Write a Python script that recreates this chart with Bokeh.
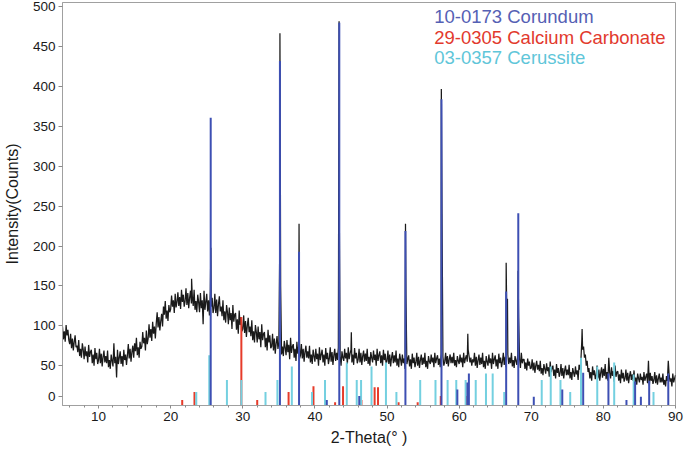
import numpy as np
from bokeh.plotting import figure
from bokeh.models import FixedTicker, Range1d
from bokeh.core.properties import value
from bokeh.embed import file_html
from bokeh.resources import INLINE

# ---------------- data ----------------
# measured pattern: one value every 0.125 deg from 5 to 90 (noisy trace as read off the picture)
theta_start, theta_stop, theta_step = 5.0, 90.0, 0.125
base_counts = [
    # 5 - 9.875
    99, 83, 93, 80, 101, 88, 95, 82,   77, 90, 72, 84, 69, 80, 88, 73,
    75, 67, 82, 62, 71, 60, 78, 70,    58, 74, 62, 68, 54, 76, 61, 67,
    70, 53, 64, 50, 72, 58, 66, 52,
    # 10 - 14.875
    57, 71, 53, 65, 49, 61, 69, 54,    62, 53, 69, 48, 57, 46, 64, 56,
    49, 78, 53, 61, 35, 70, 52, 60,    68, 52, 62, 49, 70, 57, 64, 51,
    63, 77, 59, 71, 55, 67, 75, 60,
    # 15 - 19.875
    78, 68, 85, 63, 73, 60, 80, 71,    74, 92, 78, 85, 69, 94, 77, 84,
    102, 85, 96, 81, 105, 90, 99, 84,  103, 117, 98, 111, 94, 106, 115, 99,
    124, 114, 131, 109, 119, 106, 126, 117,
    # 20 - 24.875
    121, 138, 124, 132, 116, 140, 123, 130,  142, 125, 136, 121, 145, 130, 139, 124,
    131, 147, 126, 141, 122, 135, 144, 128,  137, 125, 145, 120, 131, 117, 139, 130,
    117, 141, 122, 132, 102, 144, 120, 130,
    # 25 - 29.875
    140, 118, 132, 113, 143, 124, 135, 116,  122, 140, 116, 133, 112, 127, 137, 118,
    124, 112, 132, 107, 118, 104, 126, 117,  102, 123, 107, 116, 96, 126, 105, 114,
    116, 95, 108, 90, 119, 101, 111, 93,
    # 30 - 34.875
    96, 113, 91, 106, 86, 100, 110, 92,   99, 87, 107, 82, 93, 79, 101, 92,
    79, 99, 83, 92, 73, 102, 82, 90,      92, 73, 85, 69, 95, 79, 88, 72,
    74, 90, 69, 84, 65, 78, 87, 71,
    # 35 - 39.875
    79, 200, 150, 64, 74, 62, 81, 73,     63, 82, 67, 76, 58, 85, 66, 74,
    77, 60, 71, 56, 80, 65, 74, 59,       63, 77, 59, 71, 55, 67, 75, 60,
    68, 59, 75, 54, 64, 52, 70, 62,
    # 40 - 44.875
    55, 71, 58, 65, 50, 73, 57, 64,       70, 54, 64, 50, 72, 58, 66, 52,
    59, 73, 55, 67, 51, 63, 71, 56,       66, 57, 73, 250, 62, 50, 68, 60,
    56, 71, 59, 66, 52, 73, 58, 65,
    # 45 - 49.875
    70, 54, 64, 51, 72, 59, 66, 53,       58, 71, 54, 66, 51, 62, 69, 55,
    65, 56, 71, 52, 61, 50, 67, 60,       54, 69, 57, 64, 50, 71, 56, 63,
    68, 53, 63, 50, 70, 57, 65, 52,
    # 50 - 54.875
    56, 69, 52, 64, 49, 60, 67, 53,       63, 54, 69, 50, 59, 48, 65, 58,
    50, 64, 53, 59, 46, 140, 52, 58,      63, 49, 58, 46, 65, 53, 60, 48,
    54, 66, 50, 61, 47, 57, 64, 51,
    # 55 - 59.875
    60, 52, 66, 48, 56, 46, 62, 55,       52, 64, 54, 60, 48, 66, 53, 59,
    63, 51, 59, 48, 65, 240, 61, 50,      55, 66, 52, 62, 49, 58, 64, 53,
    61, 53, 66, 50, 57, 48, 62, 56,
    # 60 - 64.875
    52, 64, 54, 60, 48, 66, 53, 59,       63, 55, 70, 62, 54, 60, 50, 58,
    54, 66, 50, 61, 47, 57, 64, 51,       60, 52, 66, 48, 56, 46, 62, 55,
    50, 64, 53, 59, 46, 66, 52, 58,
    # 65 - 69.875
    63, 49, 58, 46, 65, 53, 60, 48,       55, 66, 51, 61, 48, 95, 64, 52,
    60, 53, 66, 49, 57, 47, 62, 56,       51, 64, 110, 59, 47, 66, 53, 58,
    58, 46, 54, 44, 59, 50, 55, 46,
    # 70 - 74.875
    47, 58, 44, 54, 41, 50, 56, 45,       51, 43, 56, 40, 47, 38, 52, 46,
    40, 53, 43, 48, 36, 55, 42, 47,       50, 37, 45, 34, 52, 41, 47, 36,
    41, 52, 37, 47, 34, 44, 50, 38,
    # 75 - 79.875
    45, 38, 51, 34, 42, 32, 47, 41,       36, 49, 39, 44, 32, 51, 45, 55,
    80, 70, 74, 60, 64, 50, 56, 42,       47, 34, 42, 31, 49, 38, 44, 33,
    38, 50, 34, 45, 31, 41, 48, 35,
    # 80 - 84.875
    46, 37, 52, 33, 42, 31, 60, 41,       34, 48, 37, 43, 30, 50, 36, 42,
    43, 31, 39, 28, 45, 34, 41, 30,       34, 45, 31, 41, 28, 37, 43, 32,
    39, 31, 44, 28, 35, 26, 40, 34,
    # 85 - 90
    29, 40, 32, 36, 26, 42, 31, 36,       40, 28, 56, 25, 41, 31, 37, 27,
    32, 42, 28, 38, 26, 34, 40, 29,       35, 29, 40, 26, 32, 24, 37, 31,
    56, 38, 30, 34, 24, 40, 29, 34,
    38,
]
# sharp reflections of the measured pattern (apex points)
peak_theta = [22.9, 25.57, 35.15, 35.2, 37.8, 37.84, 43.35, 45.05, 52.56, 57.53,
              61.2, 66.52, 66.7, 68.17, 77.05]
peak_counts = [159, 198, 467, 320, 228, 150, 482, 92, 228, 397,
               90, 179, 134, 169, 96]

# reference patterns (stick positions, stick heights)
corundum_label = "10-0173 Corundum"
corundum_theta = [25.55, 35.15, 37.8, 41.65, 43.38, 46.15, 52.55, 57.55, 59.75, 61.15, 61.35,
                  66.52, 68.2, 70.35, 74.3, 77.2, 80.7, 83.2, 84.4, 85.2, 86.35, 89.0]
corundum_h = [361, 432, 193, 7, 480, 12, 219, 384, 20, 29, 40,
              143, 241, 11, 20, 41, 40, 7, 30, 11, 31, 40]

calcite_label = "29-0305 Calcium Carbonate"
calcite_theta = [21.6, 23.3, 29.8, 32.0, 36.35, 39.8, 42.8, 43.9, 46.45, 48.28, 48.75,
                 51.6, 54.25, 57.45, 61.0]
calcite_h = [7, 17, 111, 7, 17, 24, 4, 24, 7, 23, 23, 4, 4, 12, 12]

cerussite_label = "03-0357 Cerussite"
cerussite_theta = [23.55, 25.35, 27.8, 29.8, 33.15, 34.8, 36.8, 39.6, 41.4, 44.42, 45.8, 46.4,
                   47.85, 49.85, 51.3, 54.6, 56.72, 58.4, 59.6, 60.9, 62.3, 63.72, 64.65,
                   66.25, 71.45, 72.7, 74.05, 75.4, 76.9, 79.15, 81.5, 84.2, 86.95]
cerussite_h = [17, 63, 32, 32, 17, 32, 49, 17, 32, 54, 32, 32,
               49, 54, 17, 32, 32, 32, 32, 32, 32, 40, 40,
               17, 32, 49, 32, 17, 60, 49, 54, 39, 17]

x_major = [10, 20, 30, 40, 50, 60, 70, 80, 90]
x_minor = list(range(6, 91, 2))
y_labels = ["0", "50", "100", "150", "200", "250", "300", "350", "400", "450", "500"]
y_major = [50, 100, 150, 200, 250, 300, 350, 400, 450, 500]

# ---------------- build ----------------
grid_theta = np.arange(theta_start, theta_stop + theta_step / 2, theta_step)
n = min(len(grid_theta), len(base_counts))
all_x = np.concatenate([grid_theta[:n], np.array(peak_theta)])
all_y = np.concatenate([np.array(base_counts[:n], dtype=float), np.array(peak_counts, dtype=float)])
order = np.argsort(all_x, kind="stable")
trace_x = all_x[order]
trace_y = all_y[order]

FONT = "Liberation Sans"
BLUE_STICK = "#3d4fb3"
RED_STICK = "#e63b2a"
CYAN_STICK = "#74d0e0"
ZERO_LABEL_POS = 11.3   # the "0" label sits a little above the axis corner, as in the original

p = figure(width=685, height=452, output_backend="svg", toolbar_location=None,
           x_range=Range1d(5, 90), y_range=Range1d(0, 505.5),
           min_border_left=57, min_border_right=10, min_border_top=2, min_border_bottom=47)
p.background_fill_color = "white"
p.border_fill_color = "white"
p.grid.visible = False
p.outline_line_color = "#a0a0a0"
p.outline_line_width = 1

p.line(trace_x, trace_y, line_color="#1a1a1a", line_width=1.25)

for th, hh, col in [(calcite_theta, calcite_h, RED_STICK),
                    (cerussite_theta, cerussite_h, CYAN_STICK),
                    (corundum_theta, corundum_h, BLUE_STICK)]:
    p.segment(x0=th, y0=[0] * len(th), x1=th, y1=hh, line_color=col, line_width=2,
              line_cap="butt")

# legend texts
p.text(x=[56.54] * 3, y=[488, 461.5, 436.5],
       text=[corundum_label, calcite_label, cerussite_label],
       text_color=["#5560b4", "#e2392d", "#5fc6d9"],
       text_font=value(FONT), text_font_size="18.5px",
       text_align="left", text_baseline="middle")

# axes
xa = p.xaxis[0]
xa.ticker = FixedTicker(ticks=x_major, minor_ticks=x_minor)
xa.axis_label = "2-Theta(° )"
ya = p.yaxis[0]
ya.ticker = FixedTicker(ticks=[ZERO_LABEL_POS] + y_major, minor_ticks=[])
ya.major_label_overrides = {ZERO_LABEL_POS: y_labels[0]}
ya.axis_label = "Intensity(Counts)"

for ax in (xa, ya):
    ax.axis_line_color = "#a0a0a0"
    ax.major_tick_line_color = "#8a8a8a"
    ax.minor_tick_line_color = "#8a8a8a"
    ax.major_tick_in = 0
    ax.minor_tick_in = 0
    ax.major_label_text_font = FONT
    ax.major_label_text_font_size = "13.5px"
    ax.major_label_text_color = "#1a1a1a"
    ax.axis_label_text_font = FONT
    ax.axis_label_text_font_size = "16px"
    ax.axis_label_text_font_style = "normal"
    ax.axis_label_text_color = "#1a1a1a"

xa.major_tick_out = 3
xa.minor_tick_out = 2
xa.major_label_standoff = 3
xa.axis_label_standoff = 5
ya.major_tick_out = 4
ya.minor_tick_out = 0
ya.major_label_standoff = 3
ya.axis_label_standoff = 9

open("out.html", "w").write(file_html(p, INLINE))
